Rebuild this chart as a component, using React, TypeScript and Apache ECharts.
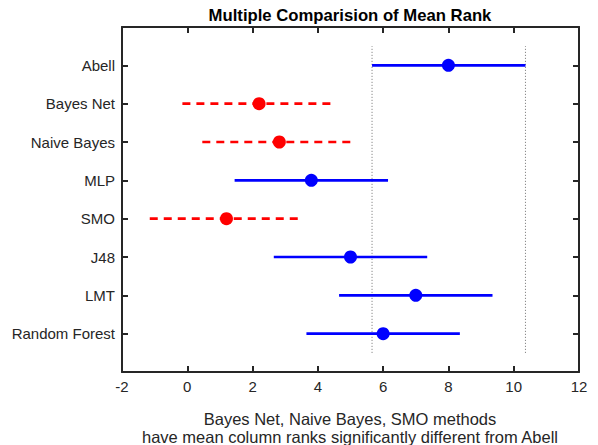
import React, { useEffect, useRef } from "react";
import * as echarts from "echarts";

const categories = ["Abell", "Bayes Net", "Naive Bayes", "MLP", "SMO", "J48", "LMT", "Random Forest"];
const means = [8.0, 2.2, 2.82, 3.8, 1.2, 5.0, 7.0, 6.0];
const lows = [5.66, -0.15, 0.46, 1.45, -1.15, 2.65, 4.65, 3.65];
const highs = [10.36, 4.55, 5.17, 6.15, 3.55, 7.35, 9.35, 8.35];
const significant = [false, true, true, false, true, false, false, false];
const xTicks = [-2, 0, 2, 4, 6, 8, 10, 12];
const titleText = "Multiple Comparision of Mean Rank";
const xLabelLines = [
  "Bayes Net, Naive Bayes, SMO methods",
  "have mean column ranks significantly different from Abell",
];

const FONT = "'Liberation Sans', Arial, Helvetica, sans-serif";
const AXIS_COLOR = "#262626";
const BLUE = "#0000ff";
const RED = "#ff0000";

export default function App() {
  const ref = useRef<HTMLDivElement>(null);

  useEffect(() => {
    if (!ref.current) return;
    const chart = echarts.init(ref.current, undefined, { renderer: "svg" });
    const n = categories.length;
    const pos = categories.map((_, i) => n - i);
    const labelMap: Record<number, string> = {};
    pos.forEach((p, i) => (labelMap[p] = categories[i]));

    const intervalSeries = categories.map((c, i) => ({
      type: "line",
      name: c,
      data: [
        [lows[i], pos[i]],
        [highs[i], pos[i]],
      ],
      symbol: "none",
      silent: true,
      lineStyle: {
        color: significant[i] ? RED : BLUE,
        width: 2.6,
        type: significant[i] ? [8, 6] : "solid",
      },
      z: 3,
    }));

    const refLines = [lows[0], highs[0]].map((x) => ({
      type: "line",
      data: [
        [x, 0.5],
        [x, n + 0.5],
      ],
      symbol: "none",
      silent: true,
      lineStyle: { color: "#707070", width: 1, type: [1, 2] },
      z: 2,
    }));

    const meanSeries = {
      type: "scatter",
      data: means.map((m, i) => ({
        value: [m, pos[i]],
        itemStyle: { color: significant[i] ? RED : BLUE, opacity: 1 },
      })),
      symbol: "circle",
      symbolSize: 13,
      itemStyle: { opacity: 1 },
      z: 4,
    };

    const axisCommon = {
      axisLine: { show: true, onZero: false, lineStyle: { color: AXIS_COLOR, width: 2 } },
      axisTick: { show: true, inside: true, length: 6, lineStyle: { color: AXIS_COLOR, width: 2 } },
      splitLine: { show: false },
    };

    chart.setOption({
      animation: false,
      backgroundColor: "#ffffff",
      grid: { left: 122, right: 19, top: 27, bottom: 73, containLabel: false },
      xAxis: [
        {
          type: "value",
          min: -2,
          max: 12,
          interval: 2,
          position: "bottom",
          ...axisCommon,
          axisLabel: {
            show: true,
            color: AXIS_COLOR,
            fontSize: 15,
            fontFamily: FONT,
            margin: 7,
            customValues: xTicks,
          },
        },
        {
          type: "value",
          min: -2,
          max: 12,
          interval: 2,
          position: "top",
          ...axisCommon,
          axisLabel: { show: false },
        },
      ],
      yAxis: [
        {
          type: "value",
          min: 0,
          max: n + 1,
          interval: 1,
          position: "left",
          ...axisCommon,
          axisTick: { ...axisCommon.axisTick, customValues: pos },
          axisLabel: {
            show: true,
            color: AXIS_COLOR,
            fontSize: 15,
            fontFamily: FONT,
            margin: 7,
            customValues: pos,
            formatter: (v: number) => labelMap[v] ?? "",
          },
        },
        {
          type: "value",
          min: 0,
          max: n + 1,
          interval: 1,
          position: "right",
          ...axisCommon,
          axisTick: { ...axisCommon.axisTick, customValues: pos },
          axisLabel: { show: false },
        },
      ],
      graphic: [
        {
          type: "text",
          x: 350,
          y: 15,
          style: {
            text: titleText,
            fontSize: 16.7,
            fontWeight: "bold",
            fontFamily: FONT,
            fill: "#000000",
            align: "center",
            verticalAlign: "middle",
          },
        },
        ...xLabelLines.map((t, i) => ({
          type: "text",
          x: 350,
          y: 419 + i * 17.5,
          style: {
            text: t,
            fontSize: 16.5,
            fontFamily: FONT,
            fill: AXIS_COLOR,
            align: "center",
            verticalAlign: "middle",
          },
        })),
      ],
      series: [...refLines, ...intervalSeries, meanSeries],
    });

    return () => chart.dispose();
  }, []);

  return (
    <div
      ref={ref}
      style={{ position: "absolute", left: 0, top: 0, width: 598, height: 445 }}
    />
  );
}
